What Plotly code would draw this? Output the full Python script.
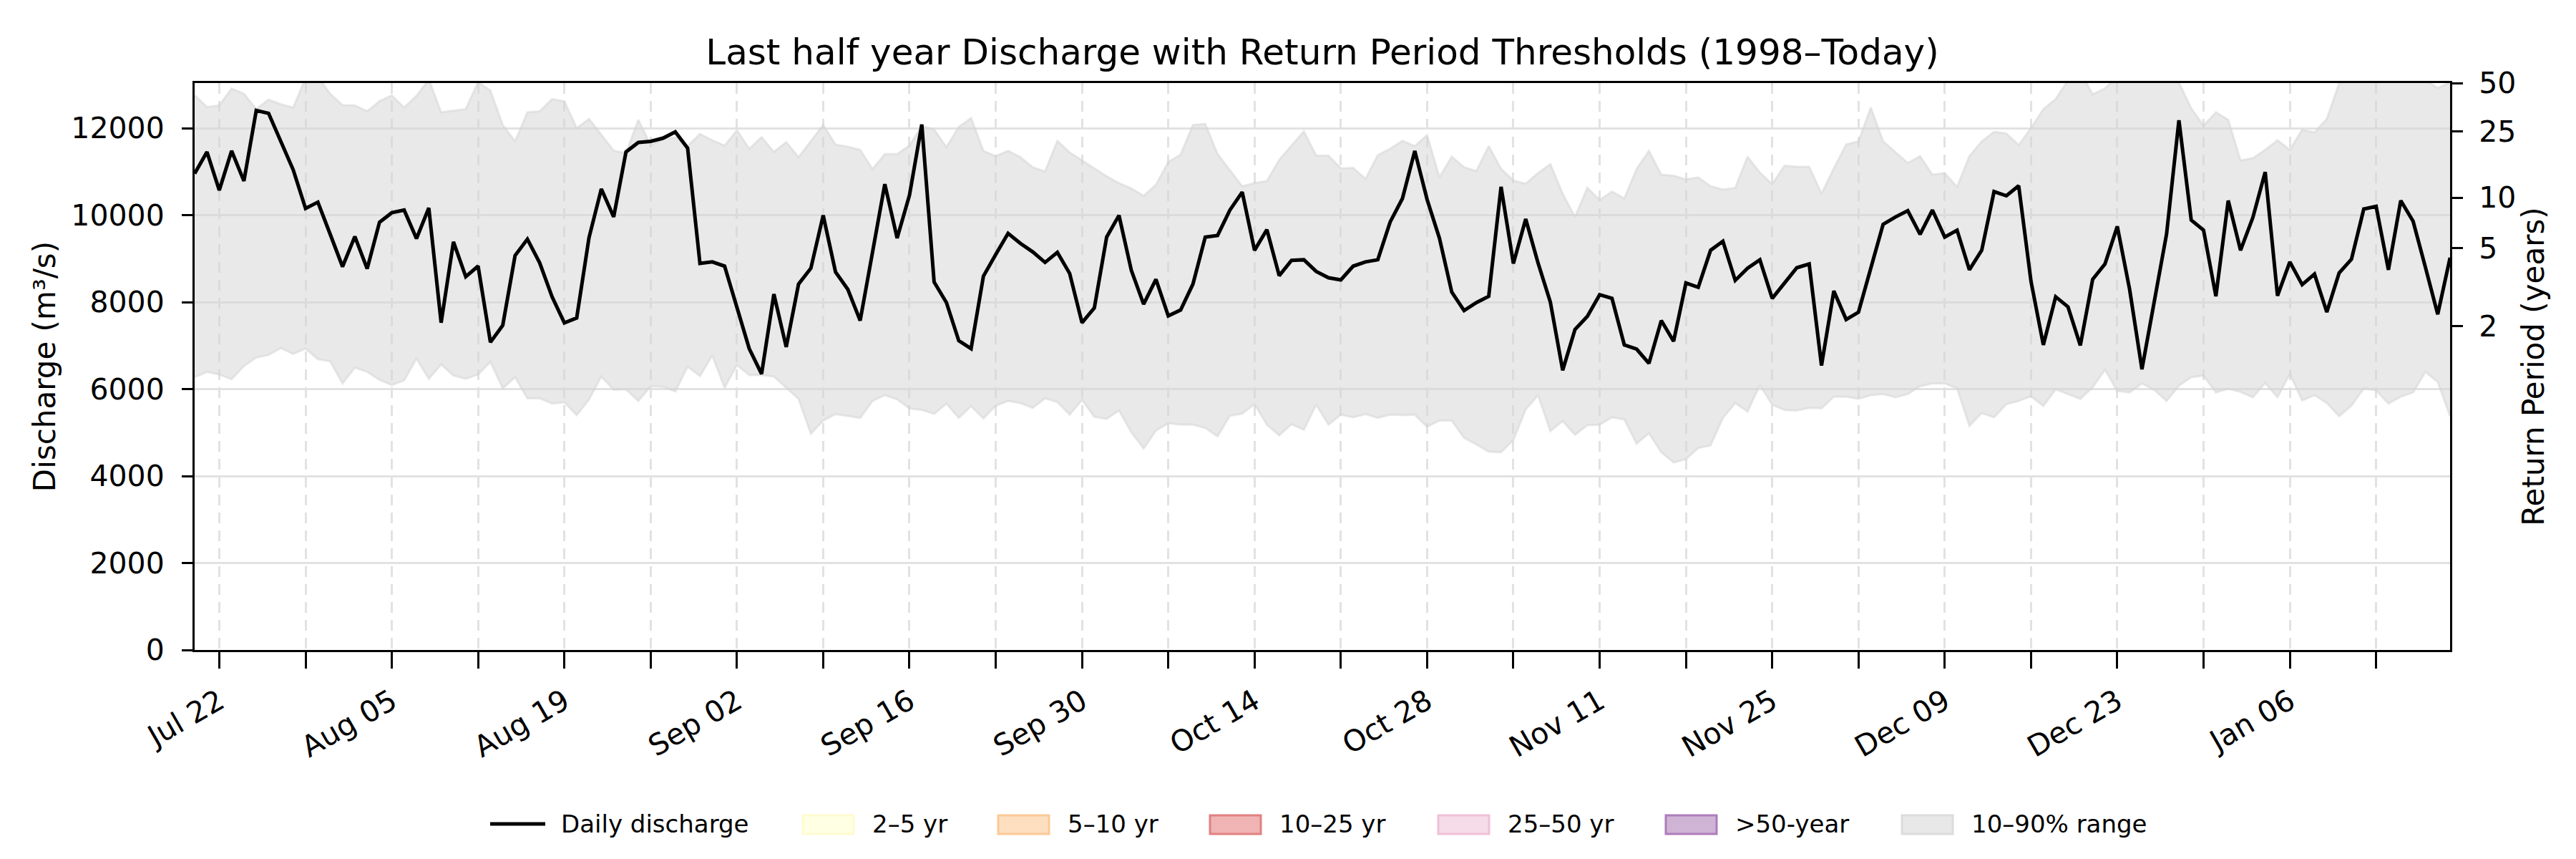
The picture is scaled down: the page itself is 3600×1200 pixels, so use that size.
import pandas as pd
import plotly.graph_objects as go

# daily values, 2024-07-20 .. 2025-01-19
START_DATE = "2024-07-20"

DISCHARGE = [
    10954, 11453, 10571, 11477, 10784, 12407, 12340, 11696, 11040, 10152,
    10298, 9560, 8815, 9508, 8766, 9836, 10055, 10116, 9459, 10164,
    7526, 9386, 8584, 8827, 7076, 7465, 9070, 9447, 8900, 8122,
    7520, 7635, 9483, 10602, 9957, 11453, 11672, 11696, 11769, 11915,
    11538, 8888, 8924, 8827, 7866, 6930, 6347, 8182, 6967, 8413,
    8778, 9994, 8693, 8292, 7574, 9191, 10711, 9471, 10456, 12085,
    8462, 7988, 7112, 6930, 8596, 9094, 9581, 9350, 9155, 8912,
    9143, 8657, 7526, 7866, 9495, 9994, 8730, 7951, 8523, 7684,
    7818, 8413, 9495, 9532, 10116, 10529, 9191, 9666, 8608, 8960,
    8973, 8705, 8559, 8511, 8827, 8924, 8973, 9842, 10383, 11477,
    10359, 9471, 8231, 7806, 7988, 8134, 10650, 8888, 9909, 8900,
    8000, 6432, 7368, 7672, 8170, 8085, 7015, 6918, 6590, 7575,
    7100, 8438, 8340, 9191, 9398, 8499, 8778, 8973, 8085, 8438,
    8790, 8875, 6541, 8255, 7599, 7769, 8778, 9787, 9957, 10103,
    9556, 10116, 9495, 9653, 8742, 9191, 10541, 10444, 10675, 8474,
    7015, 8122, 7891, 7003, 8523, 8875, 9739, 8292, 6456, 8049,
    9568, 12182, 9884, 9653, 8134, 10334, 9191, 9945, 10991, 8146,
    8924, 8401, 8644, 7769, 8669, 8985, 10140, 10201, 8742, 10334,
    9860, 8802, 7720, 9021,
]

P90 = [
    12760, 12486, 12523, 12912, 12790, 12438, 12657, 12547, 12474, 13150,
    13180, 12790, 12529, 12523, 12389, 12620, 12754, 12474, 12742, 13120,
    12365, 12401, 12438, 13060, 12863, 12073, 11696, 12365, 12389, 12669,
    12615, 12000, 12213, 11848, 11483, 11423, 12194, 11605, 11745, 11787,
    11587, 11866, 11720, 11599, 11951, 11526, 11793, 11453, 11678, 11332,
    11696, 12073, 11623, 11574, 11502, 11058, 11404, 11404, 11599, 12049,
    11970, 11562, 12030, 12231, 11477, 11356, 11477, 11332, 11100, 11003,
    11708, 11441, 11258, 11076, 10894, 10736, 10614, 10444, 10699, 11222,
    11392, 12073, 12097, 11404, 11028, 10663, 10736, 10784, 11271, 11605,
    11927, 11368, 11368, 11076, 11088, 10833, 11380, 11526, 11708, 11587,
    11842, 10869, 11343, 11100, 11015, 11587, 11064, 10796, 10723, 10967,
    11173, 10492, 9957, 10626, 10347, 10541, 10383, 11064, 11477, 10930,
    10906, 10821, 10869, 10663, 10590, 10626, 11343, 10979, 10711, 11137,
    11113, 11113, 10492, 11076, 11623, 11696, 12474, 11696, 11453, 11198,
    11356, 10930, 10967, 10651, 11356, 11696, 11915, 11878, 11611, 12000,
    12438, 12669, 13100, 13300, 12778, 12912, 13200, 13300, 13400, 13400,
    13300, 13050, 12456, 12061, 12365, 12194, 11258, 11307, 11502, 11720,
    11502, 11964, 11903, 12213, 13030, 13300, 13400, 13400, 13300, 13300,
    13200, 13100, 12924, 13050,
]

P10 = [
    6273, 6395, 6334, 6225, 6529, 6723, 6784, 6942, 6808, 6930,
    6687, 6638, 6128, 6492, 6395, 6213, 6091, 6201, 6699, 6237,
    6565, 6310, 6237, 6334, 6626, 6018, 6273, 5787, 5787, 5666,
    5696, 5398, 5763, 6286, 5982, 5994, 5726, 6067, 6055, 5945,
    6517, 6298, 6772, 6030, 6553, 6322, 6322, 6286, 6030, 5775,
    4972, 5276, 5422, 5374, 5337, 5726, 5860, 5763, 5556, 5520,
    5430, 5666, 5337, 5605, 5325, 5617, 5726, 5678, 5569, 5787,
    5702, 5410, 5751, 5362, 5313, 5508, 5009, 4632, 5045, 5216,
    5179, 5179, 5106, 4912, 5386, 5435, 5653, 5179, 4936, 5191,
    5064, 5641, 5179, 5410, 5349, 5422, 5337, 5410, 5398, 5410,
    5131, 5276, 5276, 4875, 4729, 4559, 4547, 4827, 5532, 5860,
    5033, 5264, 4948, 5167, 5179, 5349, 5301, 4742, 4985, 4547,
    4310, 4389, 4644, 4705, 5337, 5678, 5483, 6091, 5641, 5520,
    5508, 5569, 5556, 5824, 5824, 5775, 5860, 5884, 5812, 5884,
    6067, 6128, 6128, 6018, 5155, 5447, 5349, 5653, 5726, 5836,
    5611, 5994, 5884, 5775, 6043, 6444, 5957, 5921, 6128, 5982,
    5726, 6079, 6273, 6310, 5921, 6006, 5933, 5812, 6140, 5812,
    6347, 5739, 5860, 5678, 5374, 5617, 6018, 5970, 5666, 5824,
    5921, 6395, 6164, 5374,
]

# return period thresholds (years -> discharge)
RP_YEARS = [2, 5, 10, 25, 50]
RP_DISCHARGE = [7444, 9240, 10403, 11918, 13037]

# legend patches for the threshold classes and the climatology band
PATCH_LABELS = ["2–5 yr", "5–10 yr", "10–25 yr", "25–50 yr", ">50-year", "10–90% range"]
PATCH_FILL = ["#ffffe3", "#fddfc0", "#f0b4b4", "#f6dbe8", "#cfb4d5", "#e8e8e8"]
PATCH_EDGE = ["#fffbcf", "#fbc995", "#e28080", "#f0c0d8", "#ad7dbb", "#dcdcdc"]

FONT = "DejaVu Sans"
DAY_MS = 86400000
W, H = 3600, 1200
ML, MR, MT, MB = 264, 184, 108, 300
PW, PH = W - ML - MR, H - MT - MB


def px_x(px):
    return (px - ML) / PW


def px_y(py):
    return (H - MB - py) / PH


dates = pd.date_range(START_DATE, periods=len(DISCHARGE), freq="D")

fig = go.Figure()

# 10-90 % climatology band
band = "rgba(211,211,211,0.5)"
fig.add_trace(go.Scatter(
    x=dates, y=P10, mode="lines", line=dict(color=band, width=3),
    showlegend=False, hoverinfo="skip",
))
fig.add_trace(go.Scatter(
    x=dates, y=P90, mode="lines", fill="tonexty", fillcolor=band,
    line=dict(color=band, width=3), showlegend=False, hoverinfo="skip",
))

# discharge read against the return-period axis (same scale)
fig.add_trace(go.Scatter(
    x=dates, y=DISCHARGE, mode="lines", yaxis="y2",
    line=dict(color="black", width=5),
    name="Daily discharge", showlegend=False,
))

# hand-built legend row (matplotlib style patches)
leg_mid = px_y(1143)
fig.add_shape(type="line", xref="paper", yref="paper",
              x0=px_x(677), x1=px_x(754), y0=leg_mid, y1=leg_mid,
              line=dict(color="black", width=5))
fig.add_annotation(text="Daily discharge", xref="paper", yref="paper",
                   x=px_x(774), y=leg_mid, xanchor="left", yanchor="middle",
                   showarrow=False, font=dict(size=34))

patch_x = [1114, 1387, 1683, 2002, 2320, 2650]
for x0, label, face, edge in zip(patch_x, PATCH_LABELS, PATCH_FILL, PATCH_EDGE):
    fig.add_shape(type="rect", xref="paper", yref="paper",
                  x0=px_x(x0), x1=px_x(x0 + 71), y0=px_y(1157), y1=px_y(1131),
                  fillcolor=face, line=dict(color=edge, width=3))
    fig.add_annotation(text=label, xref="paper", yref="paper",
                       x=px_x(x0 + 95), y=leg_mid, xanchor="left", yanchor="middle",
                       showarrow=False, font=dict(size=34))

ymax = RP_DISCHARGE[-1]
grid = "#e2e2e2"

fig.update_layout(
    width=W,
    height=H,
    paper_bgcolor="white",
    plot_bgcolor="white",
    font=dict(family=FONT, size=41, color="black"),
    margin=dict(l=ML, r=MR, t=MT, b=MB),
    showlegend=False,
    title=dict(
        text="Last half year Discharge with Return Period Thresholds (1998–Today)",
        font=dict(size=50, color="black"),
        x=0.5, xref="paper", xanchor="center",
        y=1, yref="paper", yanchor="bottom",
        pad=dict(b=26),
    ),
    xaxis=dict(
        type="date",
        range=[dates[0], dates[-1]],
        tick0="2024-07-22",
        dtick=14 * DAY_MS,
        tickformat="%b %d",
        tickangle=-30,
        ticks="outside", ticklen=23, tickwidth=3, tickcolor="black",
        showline=True, linecolor="black", linewidth=3, mirror=True,
        showgrid=True, gridcolor=grid, gridwidth=2.5, griddash="15px,10px",
        minor=dict(
            tick0="2024-07-22", dtick=7 * DAY_MS,
            ticks="outside", ticklen=23, tickwidth=3, tickcolor="black",
            showgrid=True, gridcolor=grid, gridwidth=2.5, griddash="15px,10px",
        ),
        zeroline=False,
        automargin=False,
        ticklabelstandoff=6,
    ),
    yaxis=dict(
        range=[0, ymax],
        tick0=0, dtick=2000, tickformat="d",
        ticks="outside", ticklen=15, tickwidth=3, tickcolor="black",
        showline=True, linecolor="black", linewidth=3, mirror=True,
        showgrid=True, gridcolor=grid, gridwidth=2.5,
        zeroline=False,
        automargin=False,
        ticklabelstandoff=16,
        title=dict(text="Discharge (m³/s)", standoff=9, font=dict(size=42)),
    ),
    yaxis2=dict(
        overlaying="y", side="right", anchor="x",
        range=[0, ymax],
        tickmode="array", tickvals=RP_DISCHARGE,
        ticktext=[str(v) for v in RP_YEARS],
        ticks="outside", ticklen=15, tickwidth=3, tickcolor="black",
        showline=True, linecolor="black", linewidth=3,
        showgrid=False, zeroline=False,
        automargin=False,
        ticklabelstandoff=14,
        title=dict(text="Return Period (years)", standoff=4, font=dict(size=42)),
    ),
)

fig.write_html("out.html")
